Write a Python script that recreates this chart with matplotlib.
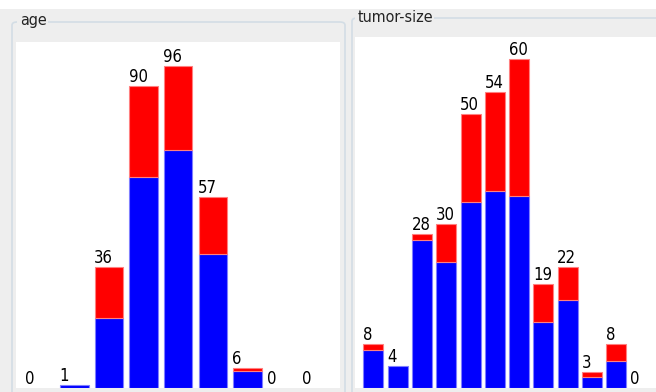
import matplotlib.pyplot as plt
from matplotlib import font_manager
from matplotlib.patches import FancyBboxPatch, Rectangle

# age histogram (breast-cancer data), split by class
age_bins = ["10-19", "20-29", "30-39", "40-49", "50-59", "60-69", "70-79", "80-89", "90-99"]
age_no_rec = [0, 1, 21, 63, 71, 40, 5, 0, 0]
age_rec = [0, 0, 15, 27, 25, 17, 1, 0, 0]

# tumor-size histogram
tumor_bins = ["0-4", "5-9", "10-14", "15-19", "20-24", "25-29",
              "30-34", "35-39", "40-44", "45-49", "50-54", "55-59"]
tumor_no_rec = [7, 4, 27, 23, 34, 36, 35, 12, 16, 2, 5, 0]
tumor_rec = [1, 0, 1, 7, 16, 18, 25, 7, 6, 1, 3, 0]

W, H = 656, 392
BG = "#eeeeee"
FRAME = "#d3dde5"

# regular DejaVu Sans Condensed if the system has it
cond = [f.fname for f in font_manager.fontManager.ttflist
        if f.fname.endswith("DejaVuSansCondensed.ttf")]
FONT = cond[0] if cond else None


def fp(size):
    if FONT:
        return font_manager.FontProperties(fname=FONT, size=size)
    return font_manager.FontProperties(family="DejaVu Sans", size=size * 0.85)


def px(x, y, w, h):
    # pixel box (top-left origin) -> figure fraction rect
    return [x / W, 1 - (y + h) / H, w / W, h / H]


fig = plt.figure(figsize=(W / 100, H / 100), dpi=100)
fig.patch.set_facecolor(BG)

# white strip across the top
fig.add_artist(Rectangle((0, 1 - 9 / H), 1, 9 / H, transform=fig.transFigure,
                         facecolor="white", edgecolor="none", zorder=0))


def group_box(x0, y0, x1, title, tx, ty, tw):
    l, b, w, h = px(x0, y0, x1 - x0, H - y0 + 20)
    fig.add_artist(FancyBboxPatch((l, b), w, h, boxstyle="round,pad=0,rounding_size=0.008",
                                  transform=fig.transFigure, facecolor="none",
                                  edgecolor=FRAME, linewidth=1.2, zorder=1))
    # gap in the frame behind the title
    l2, b2, w2, h2 = px(tx - 3, y0 - 4, tw + 6, 8)
    fig.add_artist(Rectangle((l2, b2), w2, h2, transform=fig.transFigure,
                             facecolor=BG, edgecolor="none", zorder=2))
    fig.text(tx / W, 1 - ty / H, title, fontproperties=fp(11.5),
             ha="left", va="center", color="#222222", zorder=3)


group_box(12, 22, 345, "age", 20, 21, 25)
group_box(352, 18, 680, "tumor-size", 358, 18, 73)


def hist_panel(rect, no_rec, rec, step_px, off_px, width_px, top):
    ax = fig.add_axes(px(*rect))
    ax.set_facecolor("white")
    xs = list(range(len(no_rec)))
    w = width_px / step_px
    ax.bar(xs, no_rec, width=w, align="edge", color="#0000ff", edgecolor="#7f7fff",
           linewidth=[0.8 if v else 0 for v in no_rec])
    ax.bar(xs, rec, width=w, bottom=no_rec, align="edge", color="#ff0000", edgecolor="#ff8080",
           linewidth=[0.8 if v else 0 for v in rec])
    for i in xs:
        total = no_rec[i] + rec[i]
        ax.text(i - 0.02, total, str(total), fontproperties=fp(12),
                ha="left", va="bottom", color="black")
    ax.set_xlim(-off_px / step_px, -off_px / step_px + rect[2] / step_px)
    ax.set_ylim(0, top)
    ax.set_xticks([])
    ax.set_yticks([])
    for s in ax.spines.values():
        s.set_visible(False)
    return ax


# age: 96 reaches pixel 66, baseline at 388
hist_panel((16, 42, 324, 346), age_no_rec, age_rec, 34.6, 9.5, 28.5, 346 / (322 / 96))
# tumor-size: 60 reaches pixel 59, baseline at 388
hist_panel((355, 37, 301, 351), tumor_no_rec, tumor_rec, 24.3, 8.3, 20.0, 351 / (329 / 60))

fig.savefig("out.png", dpi=100, facecolor=BG)
